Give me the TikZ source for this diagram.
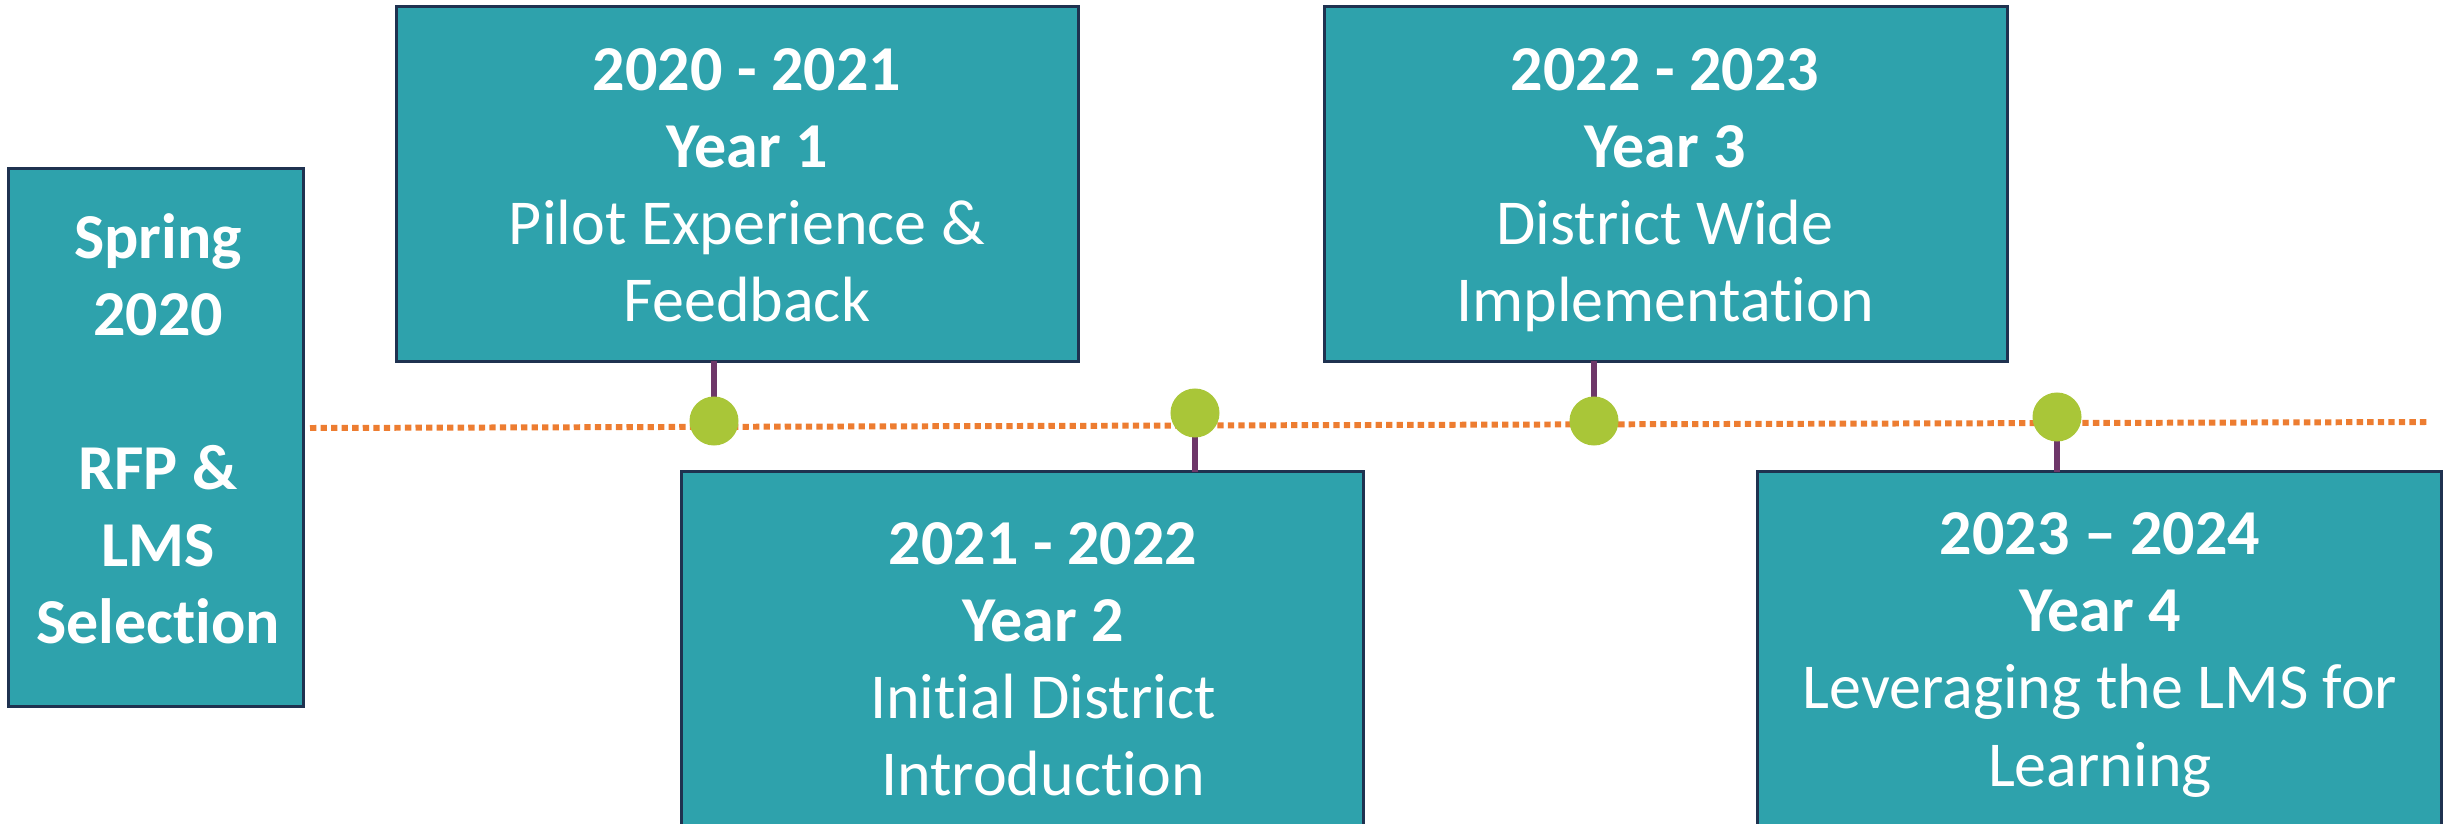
\documentclass[tikz,border=0pt]{standalone}
\usepackage{fontspec}
\setmainfont{Carlito}[Ligatures=NoCommon]
\definecolor{boxfill}{RGB}{46,162,172}
\definecolor{boxline}{RGB}{31,50,80}
\definecolor{trackorange}{RGB}{237,125,49}
\definecolor{dotgreen}{RGB}{169,198,56}
\definecolor{stempurple}{RGB}{110,55,105}
\tikzset{
  phasebox/.style={draw=boxline, fill=boxfill, line width=0.9pt, rectangle, inner sep=0pt, outer sep=0pt},
  phasetext/.style={text=white, align=center, inner sep=0pt, font=\fontsize{18.2}{21.9}\selectfont},
  milestone/.style={circle, fill=dotgreen, draw=none, minimum size=0.49cm, inner sep=0pt},
  stem/.style={draw=stempurple, line width=1.55pt},
  track/.style={draw=trackorange, line width=1.7pt, dash pattern=on 1.8pt off 1.2pt}
}
\begin{document}
\begin{tikzpicture}[x=0.01cm, y=-0.01cm]
\useasboundingbox (0,0) rectangle (2450,824);
\clip (0,0) rectangle (2450,824);

% timeline track
\coordinate (trackstart) at (310,428);
\coordinate (trackend) at (2428,422);
\draw[track] (trackstart) -- (trackend);

% phase boxes
\node[phasebox, minimum width=2.94cm, minimum height=5.37cm] (spring) at (156,437.5) {};
\node[phasebox, minimum width=6.81cm, minimum height=3.54cm] (y1) at (737.5,184) {};
\node[phasebox, minimum width=6.81cm, minimum height=3.73cm] (y2) at (1022.5,658.5) {};
\node[phasebox, minimum width=6.82cm, minimum height=3.54cm] (y3) at (1666,184) {};
\node[phasebox, minimum width=6.83cm, minimum height=3.73cm] (y4) at (2099.5,658.5) {};

% box texts
\node[phasetext] (springtxt) at (158,429) {\textbf{Spring}\\\textbf{2020}\\[21.9pt]\textbf{RFP \&}\\\textbf{LMS}\\\textbf{Selection}};
\node[phasetext] (y1txt) at (747,185) {\textbf{2020 - 2021}\\\textbf{Year 1}\\Pilot Experience \&\\Feedback};
\node[phasetext] (y2txt) at (1043,659) {\textbf{2021 - 2022}\\\textbf{Year 2}\\Initial District\\Introduction};
\node[phasetext] (y3txt) at (1665,190) {\textbf{2022 - 2023}\\\textbf{Year 3}\\District Wide\\Implementation};
\node[phasetext] (y4txt) at (2100,655) {\textbf{2023 – 2024}\\\textbf{Year 4}\\Leveraging the LMS for\\Learning};

% milestone dots
\coordinate (d1pos) at (714,421);
\coordinate (d2pos) at (1195,413);
\coordinate (d3pos) at (1594,421);
\coordinate (d4pos) at (2057,417);
\draw[stem] (d1pos |- y1.south) -- (d1pos);
\draw[stem] (d2pos) -- (d2pos |- y2.north);
\draw[stem] (d3pos |- y3.south) -- (d3pos);
\draw[stem] (d4pos) -- (d4pos |- y4.north);
\node[milestone] (d1) at (d1pos) {};
\node[milestone] (d2) at (d2pos) {};
\node[milestone] (d3) at (d3pos) {};
\node[milestone] (d4) at (d4pos) {};
\end{tikzpicture}
\end{document}
